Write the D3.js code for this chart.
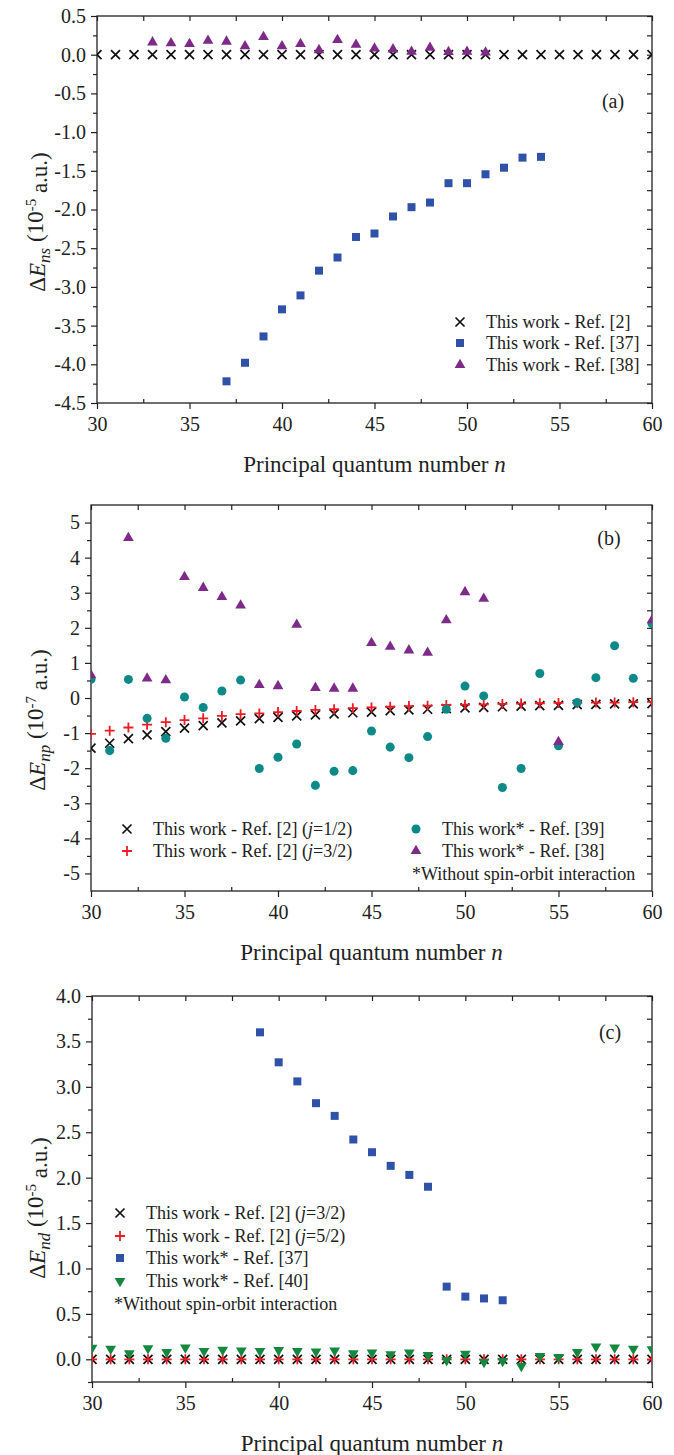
<!DOCTYPE html>
<html>
<head>
<meta charset="utf-8">
<script src="https://cdn.jsdelivr.net/npm/d3@7"></script>
<style>
  body { margin: 0; background: #fff; }
  text { font-family: "Liberation Serif", "DejaVu Serif", serif; fill: #222; }
</style>
</head>
<body>
<script>
// ---- data (a): Delta E_ns, 10^-5 a.u.
var nA2 = [30,31,32,33,34,35,36,37,38,39,40,41,42,43,44,45,46,47,48,49,50,51,52,53,54,55,56,57,58,59,60];
var dEnsRef2 = [0,0,0,0,0,0,0,0,0,0,0,0,0,0,0,0,0,0,0,0,0,0,0,0,0,0,0,0,0,0,0];
var nA37 = [37,38,39,40,41,42,43,44,45,46,47,48,49,50,51,52,53,54];
var dEnsRef37 = [-4.22,-3.98,-3.64,-3.29,-3.11,-2.79,-2.62,-2.355,-2.31,-2.09,-1.97,-1.91,-1.66,-1.66,-1.545,-1.46,-1.33,-1.32];
var nA38 = [33,34,35,36,37,38,39,40,41,42,43,44,45,46,47,48,49,50,51];
var dEnsRef38 = [0.16,0.15,0.14,0.18,0.17,0.11,0.23,0.11,0.14,0.06,0.19,0.13,0.08,0.07,0.04,0.09,0.035,0.04,0.03];

// ---- data (b): Delta E_np, 10^-7 a.u.
var nB = [30,31,32,33,34,35,36,37,38,39,40,41,42,43,44,45,46,47,48,49,50,51,52,53,54,55,56,57,58,59,60];
var dEnpJ12 = [-1.43,-1.29,-1.16,-1.05,-0.96,-0.86,-0.79,-0.71,-0.65,-0.59,-0.55,-0.51,-0.48,-0.45,-0.42,-0.40,-0.36,-0.34,-0.32,-0.30,-0.28,-0.27,-0.25,-0.23,-0.22,-0.21,-0.19,-0.18,-0.17,-0.17,-0.16];
var dEnpJ32 = [-1.02,-0.93,-0.84,-0.76,-0.69,-0.63,-0.58,-0.51,-0.46,-0.44,-0.40,-0.37,-0.34,-0.32,-0.29,-0.27,-0.25,-0.23,-0.22,-0.20,-0.19,-0.18,-0.17,-0.16,-0.15,-0.14,-0.14,-0.13,-0.13,-0.12,-0.11];
var dEnpRef39 = [0.53,-1.50,0.53,-0.58,-1.15,0.03,-0.27,0.20,0.51,-2.01,-1.69,-1.31,-2.49,-2.09,-2.07,-0.94,-1.40,-1.70,-1.10,-0.32,0.34,0.06,-2.55,-2.01,0.70,-1.36,-0.13,0.58,1.49,0.56,2.12];
var nB38 = [30,32,33,34,35,36,37,38,39,40,41,42,43,44,45,46,47,48,49,50,51,55,60];
var dEnpRef38 = [0.65,4.56,0.56,0.51,3.45,3.14,2.88,2.64,0.37,0.34,2.09,0.29,0.27,0.27,1.57,1.46,1.36,1.29,2.22,3.02,2.83,-1.25,2.22];

// ---- data (c): Delta E_nd, 10^-5 a.u.
var nC = [30,31,32,33,34,35,36,37,38,39,40,41,42,43,44,45,46,47,48,49,50,51,52,53,54,55,56,57,58,59,60];
var dEndJ32 = [0,0,0,0,0,0,0,0,0,0,0,0,0,0,0,0,0,0,0,0,0,0,0,0,0,0,0,0,0,0,0];
var dEndJ52 = [0,0,0,0,0,0,0,0,0,0,0,0,0,0,0,0,0,0,0,0,0,0,0,0,0,0,0,0,0,0,0];
var nC37 = [39,40,41,42,43,44,45,46,47,48,49,50,51,52];
var dEndRef37 = [3.60,3.27,3.06,2.82,2.68,2.42,2.28,2.13,2.03,1.90,0.80,0.69,0.67,0.65];
var dEndRef40 = [0.125,0.115,0.065,0.12,0.08,0.13,0.09,0.105,0.095,0.09,0.10,0.09,0.085,0.095,0.065,0.075,0.055,0.075,0.045,-0.01,0.06,-0.03,-0.02,-0.075,0.035,0.025,0.08,0.14,0.13,0.115,0.11];

var xTicks = [30,35,40,45,50,55,60];
var xMinor = [32.5,37.5,42.5,47.5,52.5,57.5];

var cBlue = "#2f52a8", cPurple = "#7e2a88", cTeal = "#0d8a88", cGreen = "#15873e", cRed = "#ee1c24";

var svg = d3.select("body").append("svg").attr("width", 674).attr("height", 1455);

function zip(ns, vs) { return ns.map(function (n, i) { return [n, vs[i]]; }); }

function drawMarker(sel, type, color) {
  if (type == "cross") {
    sel.append("path").attr("d", "M-4.5,-4.5L4.5,4.5M-4.5,4.5L4.5,-4.5")
      .attr("stroke", "#111").attr("stroke-width", 1.7).attr("fill", "none");
  } else if (type == "plus") {
    sel.append("path").attr("d", "M-5,0H5M0,-5V5")
      .attr("stroke", cRed).attr("stroke-width", 1.8).attr("fill", "none");
  } else if (type == "square") {
    sel.append("rect").attr("x", -4).attr("y", -4).attr("width", 8).attr("height", 8).attr("fill", color);
  } else if (type == "circle") {
    sel.append("path").attr("d", d3.symbol(d3.symbolCircle, 64)).attr("fill", color);
  } else if (type == "tri") {
    sel.append("path").attr("d", d3.symbol(d3.symbolTriangle, 50)).attr("fill", color);
  } else if (type == "tridown") {
    sel.append("path").attr("d", d3.symbol(d3.symbolTriangle, 50)).attr("transform", "rotate(180)").attr("fill", color);
  }
}

function richText(sel, parts) {
  parts.forEach(function (p) {
    var t = sel.append("tspan").text(p.t);
    if (p.i) t.attr("font-style", "italic");
    if (p.dy) t.attr("dy", p.dy);
    if (p.fs) t.attr("font-size", p.fs);
  });
}

function panel(o) {
  var x = d3.scaleLinear().domain([30, 60]).range([o.left, o.right]),
      y = d3.scaleLinear().domain(o.yDomain).range([o.bottom, o.top]);
  var g = svg.append("g");

  g.append("clipPath").attr("id", "clip" + o.id).append("rect")
    .attr("x", o.left).attr("y", o.top).attr("width", o.right - o.left).attr("height", o.bottom - o.top);

  var fmt = function (v) { return (v < 0 ? "-" : "") + d3.format(o.yFmt)(Math.abs(v)); };

  function styleAxis(a) {
    a.select(".domain").remove();
    a.selectAll("line").attr("stroke", "#222").attr("stroke-width", 1.2);
    a.selectAll("text").attr("font-family", "Liberation Serif").attr("font-size", 20).attr("fill", "#222");
  }

  // major / minor ticks
  g.append("g").attr("transform", "translate(0," + o.bottom + ")")
    .call(d3.axisBottom(x).tickValues(xTicks).tickSize(6).tickSizeOuter(0).tickPadding(8).tickFormat(d3.format("d"))).call(styleAxis);
  g.append("g").attr("transform", "translate(0," + o.bottom + ")")
    .call(d3.axisBottom(x).tickValues(xMinor).tickSize(-4).tickFormat("")).call(styleAxis);
  g.append("g").attr("transform", "translate(0," + o.top + ")")
    .call(d3.axisTop(x).tickValues(xTicks.concat(xMinor)).tickSize(-5).tickFormat("")).call(styleAxis);
  g.append("g").attr("transform", "translate(" + o.left + ",0)")
    .call(d3.axisLeft(y).tickValues(o.yTicks).tickSize(6).tickSizeOuter(0).tickPadding(5).tickFormat(fmt)).call(styleAxis);
  g.append("g").attr("transform", "translate(" + o.left + ",0)")
    .call(d3.axisLeft(y).tickValues(o.yMinor).tickSize(4).tickFormat("")).call(styleAxis);
  g.append("g").attr("transform", "translate(" + o.right + ",0)")
    .call(d3.axisRight(y).tickValues(o.yTicks.concat(o.yMinor)).tickSize(-5).tickFormat("")).call(styleAxis);

  g.append("rect").attr("x", o.left).attr("y", o.top)
    .attr("width", o.right - o.left).attr("height", o.bottom - o.top)
    .attr("fill", "none").attr("stroke", "#222").attr("stroke-width", 1.3);

  // points
  var pts = g.append("g").attr("clip-path", "url(#clip" + o.id + ")");
  o.series.forEach(function (s) {
    pts.selectAll(null).data(s.data).enter().append("g")
      .attr("transform", function (d) { return "translate(" + x(d[0]) + "," + y(d[1]) + ")"; })
      .each(function () { drawMarker(d3.select(this), s.type, s.color); });
  });

  // legend
  o.legend.forEach(function (l) {
    if (l.type) drawMarker(g.append("g").attr("transform", "translate(" + l.mx + "," + l.y + ")"), l.type, l.color);
    var t = g.append("text").attr("x", l.tx).attr("y", l.y).attr("dy", "0.35em").attr("font-size", 18);
    richText(t, l.parts);
  });

  g.append("text").attr("x", o.tagX).attr("y", o.tagY).attr("dy", "0.35em")
    .attr("text-anchor", "middle").attr("font-size", 20).text(o.tag);

  // axis titles
  var xt = g.append("text").attr("x", (o.left + o.right) / 2).attr("y", o.bottom + 61).attr("dy", "0.35em")
    .attr("text-anchor", "middle").attr("font-size", 23);
  richText(xt, [{t: "Principal quantum number "}, {t: "n", i: true}]);

  var yt = g.append("text").attr("transform", "translate(" + o.yTitleX + "," + o.yTitleY + ") rotate(-90)")
    .attr("text-anchor", "middle").attr("font-size", 23);
  richText(yt, [
    {t: "\u0394"}, {t: "E", i: true},
    {t: o.sub, i: true, dy: "0.3em", fs: 17},
    {t: " (10", dy: "-0.3em"},
    {t: o.exp, dy: "-0.45em", fs: 15},
    {t: " a.u.)", dy: "0.45em"}
  ]);
}

panel({
  id: "a", left: 97, right: 652, top: 16, bottom: 403,
  yDomain: [-4.5, 0.5], yFmt: ".1f",
  yTicks: [0.5,0,-0.5,-1,-1.5,-2,-2.5,-3,-3.5,-4,-4.5],
  yMinor: [0.25,-0.25,-0.75,-1.25,-1.75,-2.25,-2.75,-3.25,-3.75,-4.25],
  sub: "ns", exp: "-5", yTitleX: 45, yTitleY: 222, tag: "(a)", tagX: 613, tagY: 101,
  series: [
    {type: "cross", data: zip(nA2, dEnsRef2)},
    {type: "square", color: cBlue, data: zip(nA37, dEnsRef37)},
    {type: "tri", color: cPurple, data: zip(nA38, dEnsRef38)}
  ],
  legend: [
    {type: "cross", mx: 460, tx: 486, y: 322, parts: [{t: "This work - Ref. [2]"}]},
    {type: "square", color: cBlue, mx: 460, tx: 486, y: 343, parts: [{t: "This work - Ref. [37]"}]},
    {type: "tri", color: cPurple, mx: 460, tx: 486, y: 365, parts: [{t: "This work - Ref. [38]"}]}
  ]
});

panel({
  id: "b", left: 91, right: 652, top: 505, bottom: 891,
  yDomain: [-5.5, 5.5], yFmt: "d",
  yTicks: [5,4,3,2,1,0,-1,-2,-3,-4,-5],
  yMinor: [4.5,3.5,2.5,1.5,0.5,-0.5,-1.5,-2.5,-3.5,-4.5],
  sub: "np", exp: "-7", yTitleX: 45, yTitleY: 720, tag: "(b)", tagX: 609, tagY: 538,
  series: [
    {type: "cross", data: zip(nB, dEnpJ12)},
    {type: "plus", data: zip(nB, dEnpJ32)},
    {type: "circle", color: cTeal, data: zip(nB, dEnpRef39)},
    {type: "tri", color: cPurple, data: zip(nB38, dEnpRef38)}
  ],
  legend: [
    {type: "cross", mx: 127, tx: 153, y: 829, parts: [{t: "This work - Ref. [2] ("}, {t: "j", i: true}, {t: "=1/2)"}]},
    {type: "plus", mx: 127, tx: 153, y: 851, parts: [{t: "This work - Ref. [2] ("}, {t: "j", i: true}, {t: "=3/2)"}]},
    {type: "circle", color: cTeal, mx: 416, tx: 442, y: 829, parts: [{t: "This work* - Ref. [39]"}]},
    {type: "tri", color: cPurple, mx: 416, tx: 442, y: 851, parts: [{t: "This work* - Ref. [38]"}]},
    {tx: 412, y: 874, parts: [{t: "*Without spin-orbit interaction"}]}
  ]
});

panel({
  id: "c", left: 92, right: 652, top: 996, bottom: 1382,
  yDomain: [-0.25, 4.0], yFmt: ".1f",
  yTicks: [4,3.5,3,2.5,2,1.5,1,0.5,0],
  yMinor: [3.75,3.25,2.75,2.25,1.75,1.25,0.75,0.25,-0.25],
  sub: "nd", exp: "-5", yTitleX: 45, yTitleY: 1208, tag: "(c)", tagX: 610, tagY: 1032,
  series: [
    {type: "cross", data: zip(nC, dEndJ32)},
    {type: "plus", data: zip(nC, dEndJ52)},
    {type: "square", color: cBlue, data: zip(nC37, dEndRef37)},
    {type: "tridown", color: cGreen, data: zip(nC, dEndRef40)}
  ],
  legend: [
    {type: "cross", mx: 120, tx: 146, y: 1213, parts: [{t: "This work - Ref. [2] ("}, {t: "j", i: true}, {t: "=3/2)"}]},
    {type: "plus", mx: 120, tx: 146, y: 1236, parts: [{t: "This work - Ref. [2] ("}, {t: "j", i: true}, {t: "=5/2)"}]},
    {type: "square", color: cBlue, mx: 120, tx: 146, y: 1258, parts: [{t: "This work* - Ref. [37]"}]},
    {type: "tridown", color: cGreen, mx: 120, tx: 146, y: 1281, parts: [{t: "This work* - Ref. [40]"}]},
    {tx: 114, y: 1304, parts: [{t: "*Without spin-orbit interaction"}]}
  ]
});
</script>
</body>
</html>
